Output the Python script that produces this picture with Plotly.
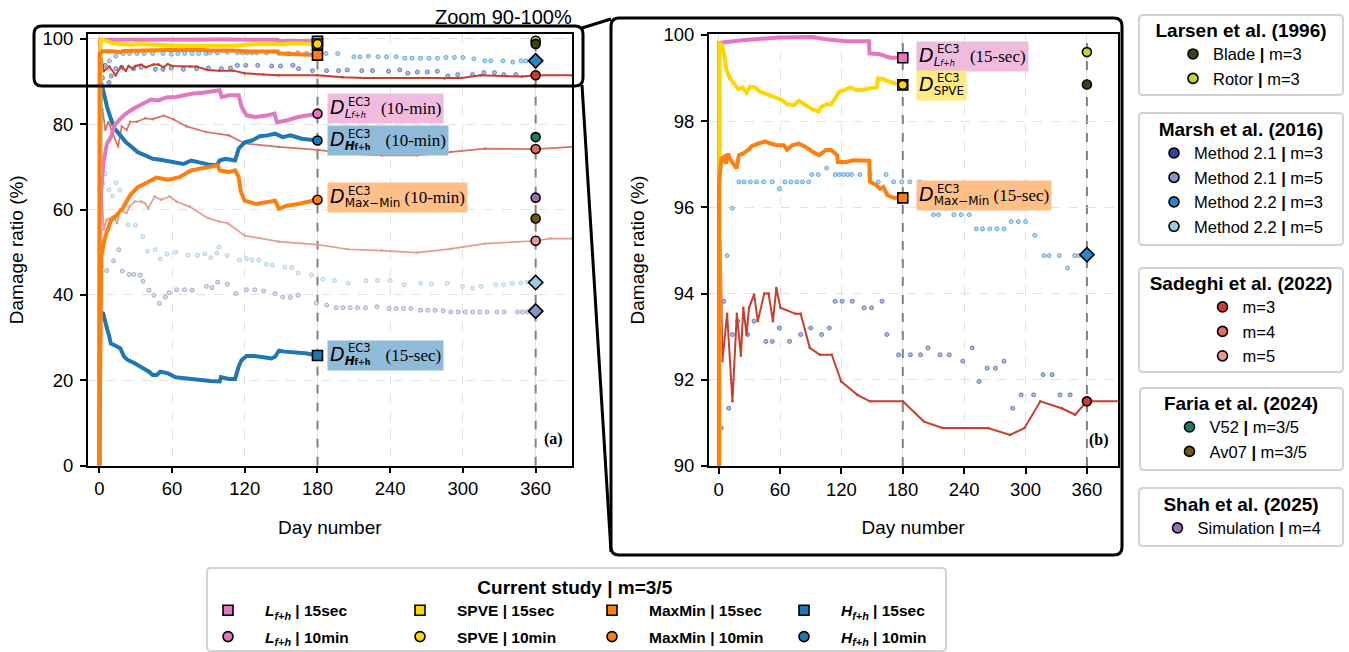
import plotly.graph_objects as go

W, H = 1349, 652
FONT = "Liberation Sans, Arial, sans-serif"

# ---------------- data ----------------
mark_days = [180, 360]
ref_day = [360]

# Current study (day 0-180)
L15_day = [0, 0.5, 6, 25.7, 58.7, 91.7, 105, 124.8, 147, 147.5, 157.7, 167.7, 180]
L15_val = [0, 99.81, 99.83, 99.88, 99.94, 99.95, 99.9, 99.85, 99.85, 99.57, 99.55, 99.47, 99.47]

SPVE_day = [0, 1, 3.3, 5.3, 7.6, 11, 16, 19, 23.4, 27.4, 30.7, 35.6, 40.6, 45.5, 50.5, 55.4, 62, 67, 73.6,
            78.5, 85, 91.7, 97.7, 100, 105, 110, 113, 118, 123, 128.7, 134.7, 141, 148, 154.5, 156, 161,
            167.7, 174, 180]
SPVE_val = [0, 99.8, 99.77, 99.57, 99.19, 98.99, 98.84, 98.74, 98.78, 98.66, 98.8, 98.78, 98.68, 98.64, 98.6,
            98.55, 98.49, 98.39, 98.37, 98.47, 98.37, 98.27, 98.22, 98.32, 98.39, 98.39, 98.49, 98.68, 98.72,
            98.78, 98.72, 98.72, 98.76, 98.78, 98.99, 98.97, 98.91, 98.86, 98.84]

MM15_day = [0, 0.3, 2.6, 5.3, 7, 9.2, 11, 14, 17.5, 19.8, 24, 29, 32.3, 39, 45.5, 50.5, 57, 63.7, 67, 72, 78.5,
            85, 91.7, 98.3, 105, 110, 115.8, 116.5, 124.8, 131.4, 147.2, 148, 154.5, 157.7, 161, 165, 171, 180]
MM15_val = [0, 96.51, 97.13, 97.17, 97.01, 97.25, 97.13, 97.01, 96.9, 97.21, 97.25, 97.33, 97.42, 97.48, 97.53,
            97.48, 97.44, 97.44, 97.34, 97.44, 97.48, 97.4, 97.29, 97.21, 97.33, 97.33, 97.21, 97.05, 97.05,
            97.09, 97.08, 96.59, 96.51, 96.43, 96.47, 96.28, 96.22, 96.22]

H15_day = [0, 0.6, 3.2, 4.7, 6.3, 7.9, 9.5, 12.6, 17.3, 20.5, 23.6, 28.4, 31.5, 36.3, 41, 44, 47.3, 50.4, 56.7,
           63, 69.4, 75.7, 82, 91.4, 99.3, 100.3, 107, 112, 115, 117.3, 121.4, 127.7, 135.6, 141.9, 145, 148.2,
           152.9, 160.8, 170.2, 180]
H15_val = [0, 36, 35.6, 33.3, 32.1, 30.6, 28.6, 28.2, 27.5, 25.5, 24.7, 24.1, 23.6, 23, 22, 21.2, 21.2, 22, 21.6,
           20.7, 20.5, 20.2, 20.1, 19.8, 19.7, 20.7, 20.3, 20.3, 23.2, 24.7, 25.7, 25.7, 25.4, 25.1, 25.5, 26.9,
           26.7, 26.5, 26.3, 25.8]

L10_day = [0, 1, 3.2, 6.3, 9.5, 12.6, 17.3, 22, 28.4, 34.7, 42.6, 48.9, 55.2, 63, 69.4, 77.2, 85.1, 94.6, 99.3,
           100.9, 107.2, 115, 117.3, 121.4, 129.3, 138.7, 144.4, 146.6, 154.5, 164, 170.2, 180]
L10_val = [0, 62, 70.7, 75.5, 77, 79.8, 81.3, 82.5, 83.7, 84.7, 85.8, 85.6, 86.3, 86.4, 86.8, 87.2, 87.4, 87.8,
           88, 86.4, 86.8, 86.8, 84.1, 82.1, 81.7, 82.1, 82.5, 80.5, 80.9, 81.7, 82.1, 82.5]

H10_day = [0, 1, 3.2, 6.3, 9.5, 12.6, 17.3, 22, 26.8, 31.5, 37.8, 44.1, 50.4, 56.7, 63, 69.4, 75.7, 82, 89.8, 97,
           99.3, 104, 112, 115, 120, 126, 132.4, 138.7, 145, 151.3, 157.6, 167, 180]
H10_val = [0, 90, 88, 84.1, 81.3, 79, 77.4, 75.8, 74.7, 73.5, 72.7, 71.9, 71.7, 71.3, 71.1, 70.7, 71.5, 71.1, 70.6,
           70.4, 71.5, 71.9, 71.5, 74.3, 75.8, 76.2, 77.2, 77.4, 77.8, 77, 77.4, 76.6, 76.2]

MM10_day = [0, 0.6, 1.6, 4.7, 9.5, 12.6, 19, 25.2, 31.5, 39, 47, 56.7, 66.2, 75.7, 88.3, 97.7, 99.3, 107, 112, 115,
            116.6, 119.8, 129.3, 138.7, 145, 148.2, 154.5, 164, 173.4, 180]
MM10_val = [0, 36, 48.9, 53.5, 57.4, 58.2, 60.2, 63.3, 65.2, 66.3, 67.5, 67, 67.6, 69.2, 70, 70.4, 69.2, 68.8, 69.2,
            67.6, 64.4, 62.1, 61.3, 61.7, 62.1, 60.2, 60.9, 61.3, 61.9, 62.3]

# Sadeghi et al. (2022)
S3_day = [2, 3.6, 8.3, 13.5, 17.8, 21.8, 24.1, 27.4, 29.7, 34.7, 38.3, 44.6, 48.8, 53.1, 56.4, 60.4, 75.2, 80.2,
          89.1, 99, 110.6, 119.8, 135.6, 147.9, 180, 200.7, 218.8, 263.4, 284.8, 299, 314.5, 335.3, 348.5, 360, 390]
S3_val = [95.2, 92.43, 93.53, 91.5, 93.53, 92.56, 93.67, 93.05, 93.67, 93.98, 93.36, 94.0, 94.0, 93.36, 94.13,
          93.67, 93.53, 93.53, 92.74, 92.58, 92.58, 91.96, 91.65, 91.5, 91.5, 91.03, 90.88, 90.88, 90.72, 90.88,
          91.5, 91.34, 91.19, 91.5, 91.5]
S4_day = [2.5, 5, 7.5, 10, 15.5, 18.5, 22.6, 25.5, 31, 37.8, 44, 53, 61, 72, 88, 107, 120, 148, 180, 205, 233,
          262, 290, 318, 360, 390]
S4_val = [83.5, 78.7, 80.5, 78.7, 74.8, 79.5, 78.7, 80.6, 80.6, 81.4, 81.2, 82, 81.2, 79.5, 78.2, 77.4, 75.5,
          74.7, 74, 73.1, 72.7, 72.7, 73.5, 74.3, 74.2, 74.7]
S5_day = [2, 3.8, 6, 11.4, 14.7, 17, 22.4, 25, 29.3, 34.7, 37.6, 40.3, 45.7, 51, 58, 63.5, 74.5, 89.6, 99, 106,
          120, 148, 180, 205, 233, 262, 290, 318, 360, 372, 390]
S5_val = [63.9, 55.3, 57.6, 58.4, 56.8, 60, 59.2, 60.7, 61.9, 61.9, 61.5, 60.3, 63.1, 62.3, 63.1, 61.9, 60.7, 58,
          57.2, 56.8, 53.9, 52.5, 51.8, 50.7, 50.4, 49.9, 50.8, 52, 52.7, 53.2, 53.2]

# Marsh et al. (2016)
M21a_day = [2.6, 5, 8, 9.9, 13.5, 18.5, 28.4, 34.6, 46.2, 52.5, 59.4, 69.3, 80.2, 90, 100.7, 108.2, 113.9, 120.8,
            130.7, 142.2, 149.5, 159.7, 164.4, 175.9, 187.5, 197.4, 204.6, 216.5, 225.4, 238.6, 247.9, 254.5,
            262.4, 270.6, 278.9, 287.5, 295.7, 307.9, 317.2, 326, 333.7, 343.6]
M21a_val = [90.88, 93.82, 89.8, 91.34, 93.05, 93.36, 93.05, 93.36, 92.89, 92.89, 93.2, 92.89, 93.05, 93.2, 93.05,
            93.2, 93.82, 93.82, 93.82, 93.67, 93.67, 93.82, 93.05, 92.58, 92.58, 92.58, 92.74, 92.58, 92.58,
            92.43, 92.74, 91.96, 92.27, 92.27, 92.43, 91.34, 91.65, 91.65, 92.12, 92.12, 91.65, 91.65]
M22a_day = [8.3, 13.5, 19.8, 25, 31, 37, 44, 52.5, 59.4, 64.7, 70.5, 76.5, 82, 88, 91, 97.4, 105.6, 114, 118, 122,
            126, 130, 138, 148, 156, 163.7, 171, 179, 187, 196.7, 210, 215, 222, 230, 237, 245, 252, 258, 265,
            272, 279, 286, 293, 300, 309, 318, 323, 333, 341, 348, 352, 356]
M22a_val = [94.88, 95.98, 96.59, 96.59, 96.59, 96.59, 96.59, 96.59, 96.43, 96.59, 96.59, 96.59, 96.59, 96.59,
            96.76, 96.76, 96.91, 96.76, 96.76, 96.76, 96.76, 96.76, 96.76, 96.76, 96.59, 96.76, 96.59, 96.59,
            96.59, 96.59, 95.83, 95.83, 95.98, 95.83, 95.83, 95.83, 95.5, 95.5, 95.5, 95.5, 95.5, 95.67, 95.67,
            95.67, 95.35, 94.88, 94.88, 94.88, 94.59, 94.88, 94.88, 94.88]
M21b_day = [1.5, 6, 11.7, 16, 19, 24.6, 28.4, 33.7, 36, 41, 45, 49.5, 54.5, 57.7, 63.7, 70.3, 76.6, 88.3, 93,
            97.7, 105.6, 112.5, 121.4, 128.3, 135.6, 145, 151.3, 157.6, 164, 179, 187.6, 195.5, 201, 207, 213,
            219.7, 229, 239, 245, 251, 257, 265, 271, 277, 283.7, 290, 296, 302, 308, 314, 320, 328, 334, 345,
            349, 353]
M21b_val = [46.7, 45.7, 48, 50.6, 45.6, 44.8, 44.8, 44.6, 43.2, 41.1, 39.9, 38, 39.5, 40.5, 41.2, 41.2, 41.1, 42,
            41.7, 43, 42.5, 40.3, 41.2, 41.2, 40.9, 40.3, 39.5, 39.4, 39.9, 38.1, 37.6, 37, 37, 37, 37, 37, 37.2,
            36.8, 36.8, 36.8, 36.8, 36.4, 36.4, 36.4, 36.3, 36, 36, 36, 36, 36, 36, 36, 36, 36, 36, 36]
M22b_day = [1.5, 3.3, 5, 8, 10.8, 13.6, 17, 23.8, 29.8, 36, 39.7, 46, 50.3, 55.8, 63, 73, 81, 87, 92, 96.8, 98.7,
            105.5, 115.7, 121.4, 126, 131.5, 137.8, 142.8, 153, 158.6, 164, 175, 184.4, 194, 205.5, 220, 229.5,
            240, 251.6, 265, 274, 287, 299.5, 308, 315, 327, 333.5, 340.5, 348, 353]
M22b_val = [72.3, 66.2, 68.4, 64.6, 63.2, 66.3, 64.6, 56.4, 56.3, 53.7, 50.2, 50.6, 48.4, 49.6, 50, 49.3, 49.3,
            49.6, 48.7, 49.8, 51.2, 49.2, 48.2, 48.5, 48.2, 48.2, 47.2, 47, 46.5, 46.4, 45.1, 44.7, 43.7, 43.4,
            42.7, 43.3, 43.4, 43.4, 42.4, 42.7, 42.5, 42.7, 42, 41.6, 42, 42.4, 42.4, 42.7, 42.8, 43]

# End-of-year reference values (day 360)
M22a_end, M22b_end, M21b_end = 94.9, 42.9, 36.2
larsen_blade, larsen_rotor = 98.85, 99.6
faria_v52, faria_av07 = 77.0, 57.9
shah_sim = 62.8
S3_end, S4_end, S5_end = 91.5, 74.2, 52.7

# ---------------- colours ----------------
C_PINK, C_YEL, C_ORA, C_BLU = "#e377c2", "#ffd700", "#ff7f0e", "#1f77b4"
C_S3, C_S4, C_S5 = "#c83e2f", "#dc6f60", "#e59b91"
C_M21a, C_M21b, C_M22a, C_M22b = "#2f4599", "#8a94c8", "#2a87c8", "#9ecae1"
C_LB, C_LR = "#3b4418", "#c3d72b"
C_FV, C_FA = "#1a7a66", "#6e5a10"
C_SHAH = "#9a6db3"

fig = go.Figure()


def both(**kw):
    for xa, ya in (("x", "y"), ("x2", "y2")):
        fig.add_trace(go.Scatter(xaxis=xa, yaxis=ya, showlegend=False, hoverinfo="skip", **kw))


def dots(day, val, fill, edge):
    both(x=day, y=val, mode="markers",
         marker=dict(symbol="circle", size=4, color=fill, line=dict(color=edge, width=0.8)))


dots(M22b_day, M22b_val, "#e3eff8", "#9cc6e2")
dots(M21b_day, M21b_val, "#dcdff0", "#8f98cc")
dots(M22a_day, M22a_val, "#b9d8f0", "#4a98d2")
dots(M21a_day, M21a_val, "#b2bde3", "#4d62b0")

for d, v, c, w in ((S5_day, S5_val, C_S5, 1.7), (S4_day, S4_val, C_S4, 1.7), (S3_day, S3_val, C_S3, 2)):
    both(x=d, y=v, mode="lines+markers", line=dict(color=c, width=w),
         marker=dict(symbol="circle", size=2.5, color=c))

for d, v, c in ((H15_day, H15_val, C_BLU), (H10_day, H10_val, C_BLU), (L10_day, L10_val, C_PINK),
                (L15_day, L15_val, C_PINK), (SPVE_day, SPVE_val, C_YEL), (MM10_day, MM10_val, C_ORA),
                (MM15_day, MM15_val, C_ORA)):
    both(x=d, y=v, mode="lines", line=dict(color=c, width=4))

# markers at the end of the current-study series (day 180)
end_sq = [(L15_val[-1], C_PINK), (SPVE_val[-1], C_YEL), (MM15_val[-1], C_ORA), (H15_val[-1], C_BLU)]
end_ci = [(L10_val[-1], C_PINK), (SPVE_val[-1], C_YEL), (MM10_val[-1], C_ORA), (H10_val[-1], C_BLU)]
for v, c in end_sq:
    both(x=[mark_days[0]], y=[v], mode="markers",
         marker=dict(symbol="square", size=10, color=c, line=dict(color="black", width=1.6)))
for v, c in end_ci:
    both(x=[mark_days[0]], y=[v], mode="markers",
         marker=dict(symbol="circle", size=9, color=c, line=dict(color="black", width=1.6)))

# reference studies at day 360
for v, c in ((M22a_end, C_M22a), (M22b_end, C_M22b), (M21b_end, C_M21b)):
    both(x=ref_day, y=[v], mode="markers",
         marker=dict(symbol="diamond", size=11, color=c, line=dict(color="black", width=1.6)))
for v, c in ((larsen_rotor, C_LR), (larsen_blade, C_LB), (faria_v52, C_FV), (faria_av07, C_FA),
             (shah_sim, C_SHAH), (S3_end, C_S3), (S4_end, C_S4), (S5_end, C_S5)):
    both(x=ref_day, y=[v], mode="markers",
         marker=dict(symbol="circle", size=9, color=c, line=dict(color="black", width=1.6)))


# ---------------- legends (legend-only entries) ----------------
def leg(name, legend, color, symbol="circle"):
    fig.add_trace(go.Scatter(x=[None], y=[None], mode="markers", name=name, legend=legend,
                             marker=dict(symbol=symbol, size=10, color=color,
                                         line=dict(color="black", width=1.6))))


leg("Blade <b>|</b> m=3", "legend", C_LB)
leg("Rotor <b>|</b> m=3", "legend", C_LR)
leg("Method 2.1 <b>|</b> m=3", "legend2", C_M21a)
leg("Method 2.1 <b>|</b> m=5", "legend2", C_M21b)
leg("Method 2.2 <b>|</b> m=3", "legend2", C_M22a)
leg("Method 2.2 <b>|</b> m=5", "legend2", C_M22b)
leg("m=3", "legend3", C_S3)
leg("m=4", "legend3", C_S4)
leg("m=5", "legend3", C_S5)
leg("V52 <b>|</b> m=3/5", "legend4", C_FV)
leg("Av07 <b>|</b> m=3/5", "legend4", C_FA)
leg("Simulation <b>|</b> m=4", "legend5", C_SHAH)
LF = "<i>L</i><sub><i>f+h</i></sub>"
HF = "<i>H</i><sub><i>f+h</i></sub>"
for nm, c in ((LF, C_PINK), ("SPVE", C_YEL), ("MaxMin", C_ORA), (HF, C_BLU)):
    leg(f"<b>{nm} | 15sec</b>", "legend6", c, "square")
for nm, c in ((LF, C_PINK), ("SPVE", C_YEL), ("MaxMin", C_ORA), (HF, C_BLU)):
    leg(f"<b>{nm} | 10min</b>", "legend7", c, "circle")


def px(x):
    return x / W


def py(y):
    return 1 - y / H


def legend_box(title, xc, ytop, indent, horizontal=False, entry=0, iw=30):
    d = dict(x=px(xc), xanchor="center", y=py(ytop), yanchor="top", bgcolor="rgba(0,0,0,0)",
             borderwidth=0, font=dict(family=FONT, size=16.5, color="black"), indentation=indent,
             itemwidth=iw)
    if title:
        d["title"] = dict(text=f"<b>{title}</b>", side="top center", font=dict(family=FONT, size=19))
    if horizontal:
        d.update(orientation="h", entrywidth=entry, entrywidthmode="pixels",
                 font=dict(family=FONT, size=15.5, color="black"))
    return d


def rrect(x0, y0, x1, y1, r, color, width, fill="rgba(0,0,0,0)", layer="above"):
    X0, X1 = px(x0), px(x1)
    Yb, Yt = py(y1), py(y0)
    rx, ry = r / W, r / H
    path = (f"M{X0 + rx},{Yb} L{X1 - rx},{Yb} Q{X1},{Yb} {X1},{Yb + ry} L{X1},{Yt - ry} "
            f"Q{X1},{Yt} {X1 - rx},{Yt} L{X0 + rx},{Yt} Q{X0},{Yt} {X0},{Yt - ry} L{X0},{Yb + ry} "
            f"Q{X0},{Yb} {X0 + rx},{Yb} Z")
    fig.add_shape(type="path", path=path, xref="paper", yref="paper", layer=layer,
                  line=dict(color=color, width=width), fillcolor=fill)


# legend frames
for (x0, y0, x1, y1) in ((1139, 15, 1343, 95), (1139, 113, 1343, 245), (1139, 268, 1343, 372),
                         (1140, 388, 1343, 470), (1139, 488, 1343, 546), (207, 568, 946, 651)):
    rrect(x0, y0, x1, y1, 4, "#d2d2d2", 2, "white", "below")

# zoom frames
rrect(34, 26, 583, 86, 8, "black", 3)
rrect(611, 18, 1122, 555, 8, "black", 3)
fig.add_shape(type="line", xref="paper", yref="paper", x0=px(582), y0=py(28), x1=px(611), y1=py(19),
              line=dict(color="black", width=3), layer="above")
fig.add_shape(type="line", xref="paper", yref="paper", x0=px(582), y0=py(85), x1=px(611), y1=py(552),
              line=dict(color="black", width=3), layer="above")

# vertical reference lines
for xa, ya in (("x", "y"), ("x2", "y2")):
    for d in mark_days:
        fig.add_shape(type="line", xref=xa, yref=f"{ya} domain", x0=d, x1=d, y0=0, y1=1,
                      line=dict(color="#808080", width=2, dash="dash"), layer="below")


# ---------------- labels ----------------
def label(xa, ya, x, y, sub, suffix, bg, pad=""):
    txt = (f"<span style='font-size:19px'><i>D</i></span><sub>{sub}</sub>{pad}"
           + (f"<span style='font-family:Liberation Serif;font-size:17px'> {suffix}</span>" if suffix else ""))
    fig.add_annotation(x=x, y=y, xref=xa, yref=ya, xanchor="left", yanchor="middle", text=txt,
                       showarrow=False, bgcolor=bg, borderpad=2,
                       font=dict(family="DejaVu Sans", size=17, color="black"))
    fig.add_annotation(x=x, y=y, xref=xa, yref=ya, xanchor="left", yanchor="middle", text="EC3",
                       showarrow=False, xshift=19, yshift=7,
                       font=dict(family="DejaVu Sans", size=11.5, color="black"))


SUB_L = "<i>L</i><span style='font-size:8px'><i>f+h</i></span>"
SUB_H = "<b><i>H</i><span style='font-size:8px'>f+h</span></b>"
BG_P, BG_B, BG_O, BG_Y = "#f1bbe0", "#8fbbd9", "#ffbf86", "#ffeb7f"
SP = "&nbsp;&nbsp;"
label("x", "y", 188, 83.6, SUB_L, "(10-min)", BG_P, SP)
label("x", "y", 188, 76.2, SUB_H, "(10-min)", BG_B, SP)
label("x", "y", 188, 62.8, "Max−Min", "(10-min)", BG_O)
label("x", "y", 188, 25.9, SUB_H, "(15-sec)", BG_B, SP)
label("x2", "y2", 193, 99.5, SUB_L, "(15-sec)", BG_P, SP)
label("x2", "y2", 193, 98.83, "SPVE", "", BG_Y)
label("x2", "y2", 193, 96.27, "Max−Min", "(15-sec)", BG_O)

fig.add_annotation(x=0.985, y=0.035, xref="x domain", yref="y domain", xanchor="right", yanchor="bottom",
                   text="<b>(a)</b>", showarrow=False, font=dict(family="Liberation Serif", size=16, color="black"))
fig.add_annotation(x=0.985, y=0.035, xref="x2 domain", yref="y2 domain", xanchor="right", yanchor="bottom",
                   text="<b>(b)</b>", showarrow=False, font=dict(family="Liberation Serif", size=16, color="black"))
fig.add_annotation(x=px(504), y=py(17), xref="paper", yref="paper", xanchor="center", yanchor="middle",
                   text="Zoom 90-100%", showarrow=False, font=dict(family=FONT, size=20, color="black"))

# ---------------- axes / layout ----------------
ax = dict(showline=True, linecolor="black", linewidth=1.5, mirror=True, ticks="outside", ticklen=6,
          tickwidth=1.5, tickcolor="black", showgrid=True, gridcolor="#e2e2e2", griddash="dash",
          gridwidth=1.3, zeroline=False, automargin=False,
          tickfont=dict(family=FONT, size=18.5, color="black"))
xt = dict(tickvals=[0, 60, 120, 180, 240, 300, 360], range=[-9.6, 390],
          title=dict(text="Day number", font=dict(family=FONT, size=19, color="black"), standoff=22))
yt = dict(title=dict(text="Damage ratio (%)", font=dict(family=FONT, size=19, color="black"), standoff=14),
          ticklabelstandoff=3)

fig.update_layout(
    width=W, height=H, margin=dict(l=0, r=0, t=0, b=0, autoexpand=False), paper_bgcolor="white",
    plot_bgcolor="white", font=dict(family=FONT, color="black"),
    xaxis=dict(domain=[px(87.7), px(572)], anchor="y", **ax, **xt),
    yaxis=dict(domain=[py(465.5), py(34)], anchor="x", range=[0, 101.17], tickvals=[0, 20, 40, 60, 80, 100],
               **ax, **yt),
    xaxis2=dict(domain=[px(708.8), px(1117.6)], anchor="y2", **ax, **xt),
    yaxis2=dict(domain=[py(466), py(34)], anchor="x2", range=[90, 100.02], tickvals=[90, 92, 94, 96, 98, 100],
                **ax, **yt),
    legend=legend_box("Larsen et al. (1996)", 1241, 12, 20),
    legend2=legend_box("Marsh et al. (2016)", 1241, 111, 0),
    legend3=legend_box("Sadeghi et al. (2022)", 1241, 265, 55),
    legend4=legend_box("Faria et al. (2024)", 1241, 385, 8),
    legend5=legend_box("Shah et al. (2025)", 1241, 486, 2),
    legend6=legend_box("Current study | m=3/5", 575, 569, 0, True, 113, 64),
    legend7=legend_box("", 575, 620, 0, True, 113, 64),
    showlegend=True,
)

fig.write_html("out.html")
